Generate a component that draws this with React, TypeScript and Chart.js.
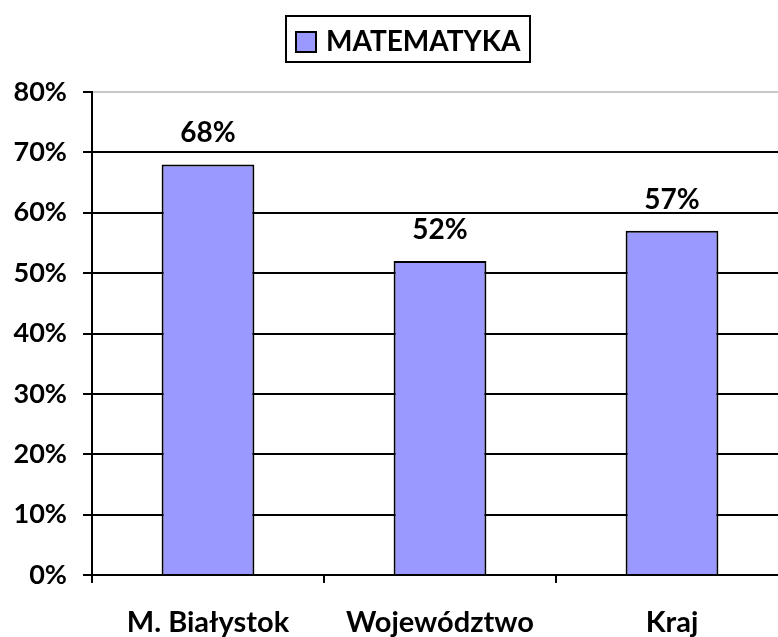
import React, { useEffect, useRef } from "react";
import { Chart, registerables } from "chart.js";

Chart.register(...registerables);

const categories = ["M. Białystok", "Województwo", "Kraj"];
const seriesName = "MATEMATYKA";
const values = [0.68, 0.52, 0.57];
const yTicks = [0, 0.1, 0.2, 0.3, 0.4, 0.5, 0.6, 0.7, 0.8];

const FONT = "Lato, 'Open Sans', sans-serif";
const BAR = "#9999FF";

const pct = (v: number) => Math.round(v * 100) + "%";

const labelsPlugin = {
  id: "barLabels",
  afterDatasetsDraw(chart: any) {
    const ctx = chart.ctx;
    const meta = chart.getDatasetMeta(0);
    ctx.save();
    ctx.font = `bold 28px ${FONT}`;
    ctx.fillStyle = "#000";
    ctx.textAlign = "center";
    ctx.textBaseline = "alphabetic";
    meta.data.forEach((el: any, i: number) => {
      ctx.fillText(pct(values[i]), el.x, el.y - 22);
    });
    ctx.restore();
  },
};

const legendPlugin = {
  id: "boxLegend",
  afterDraw(chart: any) {
    const ctx = chart.ctx;
    ctx.save();
    ctx.lineWidth = 2;
    ctx.strokeStyle = "#000";
    ctx.strokeRect(286, 16, 244, 46);
    ctx.fillStyle = BAR;
    ctx.fillRect(296, 32, 20, 20);
    ctx.strokeRect(296, 32, 20, 20);
    ctx.fillStyle = "#000";
    ctx.font = `bold 28px ${FONT}`;
    ctx.textAlign = "left";
    ctx.textBaseline = "middle";
    ctx.fillText(seriesName, 326, 42);
    ctx.restore();
  },
};

export default function App() {
  const ref = useRef<HTMLCanvasElement>(null);
  useEffect(() => {
    if (!ref.current) return;
    const chart = new Chart(ref.current, {
      type: "bar",
      data: {
        labels: categories,
        datasets: [
          {
            label: seriesName,
            data: values,
            backgroundColor: BAR,
            borderColor: "#000",
            borderWidth: 2,
            categoryPercentage: 1,
            barPercentage: 0.4,
          },
        ],
      },
      options: {
        responsive: false,
        animation: false,
        layout: { padding: { top: 92, left: 0, right: 12, bottom: 0 } },
        plugins: { legend: { display: false }, tooltip: { enabled: false } },
        scales: {
          x: {
            offset: true,
            grid: {
              offset: true,
              drawOnChartArea: false,
              drawTicks: true,
              tickLength: 8,
              tickColor: "#000",
              lineWidth: 2,
            },
            border: { color: "#000", width: 2 },
            ticks: {
              color: "#000",
              font: { family: FONT, size: 29, weight: "bold" },
              padding: 22,
              maxRotation: 0,
              autoSkip: false,
            },
            afterFit: (s: any) => {
              s.height = 62;
            },
          },
          y: {
            min: 0,
            max: 0.8,
            afterBuildTicks: (s: any) => {
              s.ticks = yTicks.map((v) => ({ value: v }));
            },
            grid: {
              color: (c: any) =>
                c.tick && Math.abs(c.tick.value - 0.8) < 1e-6 ? "#c8c8c8" : "#000",
              lineWidth: 2,
              tickLength: 9,
              tickColor: "#000",
            },
            border: { color: "#000", width: 2 },
            ticks: {
              color: "#000",
              font: { family: FONT, size: 27, weight: "bold" },
              padding: 16,
              callback: (v: any) => pct(Number(v)),
            },
            afterFit: (s: any) => {
              s.width = 92;
            },
          },
        },
      },
      plugins: [labelsPlugin, legendPlugin],
    });
    return () => chart.destroy();
  }, []);
  return (
    <div
      style={{
        position: "fixed",
        left: 0,
        top: 0,
        width: 778,
        height: 637,
        overflow: "hidden",
        background: "#fff",
      }}
    >
      <canvas ref={ref} width={800} height={637} style={{ width: 800, height: 637, display: "block" }} />
    </div>
  );
}
